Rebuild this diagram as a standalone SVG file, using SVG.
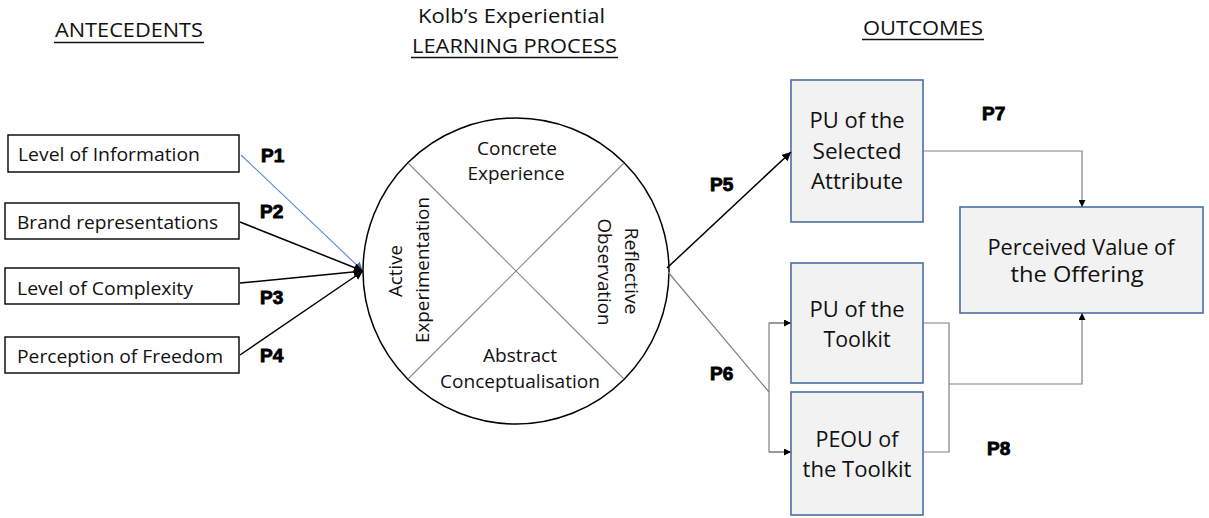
<svg xmlns="http://www.w3.org/2000/svg" width="1209" height="518" viewBox="0 0 1209 518">
<style>
.t{font-family:"Open Sans","Noto Sans",sans-serif;fill:#111;}
.h{font-size:20px;}
.l{font-size:19px;}
.c{font-size:19px;text-anchor:middle;}
.r{font-size:21px;text-anchor:middle;}
.p{font-family:"Liberation Sans",Arial,sans-serif;font-weight:bold;font-size:19px;fill:#000;stroke:#000;stroke-width:0.9;}
.lb{fill:#fff;stroke:#000;stroke-width:1.4;}
.rb{fill:#f2f2f2;stroke:#4a6ea4;stroke-width:1.6;}
.ul{stroke:#111;stroke-width:1.4;}
.k{stroke:#000;stroke-width:1.5;fill:none;}
.g{stroke:#808080;stroke-width:1.2;fill:none;}
</style>
<defs>
<marker id="ak" viewBox="0 0 10 10" refX="10" refY="5" markerWidth="7" markerHeight="7" markerUnits="userSpaceOnUse" orient="auto"><path d="M0,0 L10,5 L0,10 z" fill="#000"/></marker>
<marker id="ab" viewBox="0 0 10 10" refX="10" refY="5" markerWidth="9" markerHeight="9" markerUnits="userSpaceOnUse" orient="auto"><path d="M0,0 L10,5 L0,10 z" fill="#4472c4"/></marker>
<marker id="akb" viewBox="0 0 10 10" refX="10" refY="5" markerWidth="9" markerHeight="9" markerUnits="userSpaceOnUse" orient="auto"><path d="M0,0 L10,5 L0,10 z" fill="#000"/></marker>
</defs>
<rect width="1209" height="518" fill="#fff"/>

<g id="headings">
<text class="t h" x="55" y="37" textLength="148" lengthAdjust="spacingAndGlyphs">ANTECEDENTS</text>
<line class="ul" x1="54" y1="42.5" x2="204" y2="42.5"/>
<text class="t h" x="418" y="23" textLength="187" lengthAdjust="spacingAndGlyphs">Kolb’s Experiential</text>
<text class="t h" x="412" y="53" textLength="205" lengthAdjust="spacingAndGlyphs">LEARNING PROCESS</text>
<line class="ul" x1="411" y1="57.5" x2="618" y2="57.5"/>
<text class="t h" x="863" y="35" textLength="120" lengthAdjust="spacingAndGlyphs">OUTCOMES</text>
<line class="ul" x1="862" y1="39.5" x2="984" y2="39.5"/>
</g>

<g id="n-info"><rect class="lb" x="8" y="135" width="231" height="37"/><text class="t l" x="18" y="161" textLength="182" lengthAdjust="spacingAndGlyphs">Level of Information</text></g>
<g id="n-brand"><rect class="lb" x="5" y="203" width="234" height="36"/><text class="t l" x="17" y="229" textLength="201" lengthAdjust="spacingAndGlyphs">Brand representations</text></g>
<g id="n-complex"><rect class="lb" x="5" y="268" width="234" height="36"/><text class="t l" x="17" y="295" textLength="176" lengthAdjust="spacingAndGlyphs">Level of Complexity</text></g>
<g id="n-freedom"><rect class="lb" x="5" y="337" width="234" height="36"/><text class="t l" x="17" y="363" textLength="206" lengthAdjust="spacingAndGlyphs">Perception of Freedom</text></g>

<g id="n-kolb">
<circle cx="516" cy="271" r="153" fill="#fff" stroke="#000" stroke-width="1.5"/>
<line x1="408" y1="163" x2="624" y2="379" stroke="#8a8a8a" stroke-width="1.1"/>
<line x1="624" y1="163" x2="408" y2="379" stroke="#8a8a8a" stroke-width="1.1"/>
<text class="t c" x="517" y="155" textLength="80" lengthAdjust="spacingAndGlyphs">Concrete</text>
<text class="t c" x="516" y="180" textLength="97" lengthAdjust="spacingAndGlyphs">Experience</text>
<text class="t c" x="520" y="362" textLength="74" lengthAdjust="spacingAndGlyphs">Abstract</text>
<text class="t c" x="520" y="388" textLength="160" lengthAdjust="spacingAndGlyphs">Conceptualisation</text>
<text class="t c" transform="translate(402,271) rotate(-90)" x="0" y="0" textLength="52" lengthAdjust="spacingAndGlyphs">Active</text>
<text class="t c" transform="translate(429,270) rotate(-90)" x="0" y="0" textLength="146" lengthAdjust="spacingAndGlyphs">Experimentation</text>
<text class="t c" transform="translate(625,271) rotate(90)" x="0" y="0" textLength="87" lengthAdjust="spacingAndGlyphs">Reflective</text>
<text class="t c" transform="translate(598,272) rotate(90)" x="0" y="0" textLength="107" lengthAdjust="spacingAndGlyphs">Observation</text>
</g>

<g id="n-pusel"><rect class="rb" x="791" y="80" width="132" height="142"/>
<text class="t r" x="857" y="128" textLength="95" lengthAdjust="spacingAndGlyphs">PU of the</text>
<text class="t r" x="857" y="159" textLength="89" lengthAdjust="spacingAndGlyphs">Selected</text>
<text class="t r" x="857" y="189" textLength="92" lengthAdjust="spacingAndGlyphs">Attribute</text></g>

<g id="n-putool"><rect class="rb" x="791" y="263" width="132" height="120"/>
<text class="t r" x="857" y="317" textLength="95" lengthAdjust="spacingAndGlyphs">PU of the</text>
<text class="t r" x="857" y="347" textLength="67" lengthAdjust="spacingAndGlyphs">Toolkit</text></g>

<g id="n-peou"><rect class="rb" x="791" y="392" width="132" height="123"/>
<text class="t r" x="857" y="447" textLength="83" lengthAdjust="spacingAndGlyphs">PEOU of</text>
<text class="t r" x="857" y="477" textLength="109" lengthAdjust="spacingAndGlyphs">the Toolkit</text></g>

<g id="n-pv"><rect class="rb" x="960" y="207" width="243" height="106"/>
<text class="t r" x="1081" y="255" textLength="187" lengthAdjust="spacingAndGlyphs">Perceived Value of</text>
<text class="t r" x="1077" y="282" textLength="133" lengthAdjust="spacingAndGlyphs">the Offering</text></g>

<g id="connectors">
<line x1="241" y1="155" x2="363" y2="271" stroke="#5b8bd6" stroke-width="1.1" marker-end="url(#ab)"/>
<line class="k" x1="240" y1="222" x2="363" y2="271" marker-end="url(#akb)"/>
<line class="k" x1="240" y1="283" x2="363" y2="271" marker-end="url(#akb)"/>
<line class="k" x1="240" y1="355" x2="363" y2="271" marker-end="url(#akb)"/>
<line class="k" x1="667" y1="268" x2="791" y2="152" marker-end="url(#akb)"/>
<line class="g" x1="668" y1="272" x2="769" y2="392"/>
<polyline class="g" points="923,151 1082,151 1082,207" marker-end="url(#ak)"/>
<polyline class="g" points="791,323 769,323 769,452 791,452"/>
<line class="g" x1="769" y1="323" x2="791" y2="323" marker-end="url(#ak)"/>
<line class="g" x1="769" y1="452" x2="791" y2="452" marker-end="url(#ak)"/>
<polyline class="g" points="923,323 949,323 949,452 923,452"/>
<polyline class="g" points="949,384 1082,384 1082,313" marker-end="url(#ak)"/>
</g>

<g id="labels">
<text class="p" x="261" y="162">P1</text>
<text class="p" x="260" y="218">P2</text>
<text class="p" x="260" y="304">P3</text>
<text class="p" x="260" y="362">P4</text>
<text class="p" x="710" y="191">P5</text>
<text class="p" x="710" y="380">P6</text>
<text class="p" x="982" y="120">P7</text>
<text class="p" x="987" y="455">P8</text>
</g>
</svg>
